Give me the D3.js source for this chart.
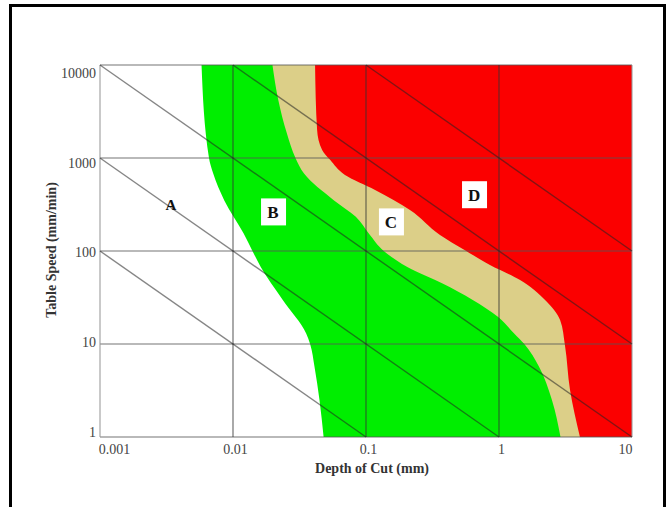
<!DOCTYPE html>
<html>
<head>
<meta charset="utf-8">
<script src="https://cdn.jsdelivr.net/npm/d3@7"></script>
<style>
  body { margin: 0; background: #fff; }
  svg { display: block; font-family: "Liberation Serif", "DejaVu Serif", serif; }
</style>
</head>
<body>
<div id="chart"></div>
<script>
// axis ticks
const depthTicks = [0.001, 0.01, 0.1, 1, 10];
const speedTicks = [1, 10, 100, 1000, 10000];

// zone boundaries: [table speed (mm/min), depth of cut (mm)]
const boundaryAB = [
  [1, 0.048], [2.5, 0.0447], [5.7, 0.041], [10, 0.038], [13, 0.0355], [30, 0.0236],
  [67, 0.0162], [100, 0.014], [155, 0.012], [350, 0.0086], [680, 0.0071], [1000, 0.0066], [10000, 0.0058]
];
const boundaryBC = [
  [1, 2.9], [2.5, 2.5], [5.7, 2.0], [10, 1.55], [13, 1.3], [19.5, 0.986], [30, 0.63],
  [45, 0.373], [67, 0.206], [100, 0.136], [154, 0.105], [233, 0.0838], [350, 0.0575],
  [680, 0.0342], [1000, 0.0295], [1840, 0.0254], [4200, 0.0219], [10000, 0.0198]
];
const boundaryCD = [
  [1, 4.06], [3.2, 3.42], [9.75, 3.13], [18.1, 2.88], [29.7, 2.22], [48.8, 1.44],
  [70.8, 0.855], [102, 0.555], [149, 0.36], [276, 0.214], [453, 0.117], [656, 0.0695],
  [955, 0.0537], [1219, 0.0468], [1995, 0.0429], [10000, 0.0414]
];

// constant-product lines (speed x depth)
const diagonalProducts = [0.1, 1, 10, 100, 1000];

// zone labels
const zoneNames = ['A', 'B', 'C', 'D'];
const zoneDepths = [0.00342, 0.0200, 0.154, 0.649];
const zoneSpeeds = [309, 260, 203, 398];

const width = 671;
const height = 507;

const svg = d3.select('#chart')
  .append('svg')
  .attr('width', width)
  .attr('height', height);

// outer frame
svg.append('rect')
  .attr('x', 10.5)
  .attr('y', 5.5)
  .attr('width', 654)
  .attr('height', 530)
  .attr('fill', 'none')
  .attr('stroke', '#000')
  .attr('stroke-width', 3);

const x = d3.scaleLog().domain([0.001, 10]).range([100, 632]);
const y = d3.scaleLog().domain([1, 10000]).range([437, 65]);

// zones, each filled from its left boundary to the right edge
const zoneArea = d3.area()
  .curve(d3.curveMonotoneY)
  .y((d) => y(d[0]))
  .x0((d) => x(d[1]))
  .x1(x(10));

const zones = [
  { data: boundaryAB, color: '#00ee00' },
  { data: boundaryBC, color: '#dccf88' },
  { data: boundaryCD, color: '#fb0000' }
];

svg.append('g')
  .selectAll('path')
  .data(zones)
  .join('path')
  .attr('d', (d) => zoneArea(d.data))
  .attr('fill', (d) => d.color);

// grid lines
const grid = svg.append('g');
grid.selectAll('line.h')
  .data(speedTicks)
  .join('line')
  .attr('class', 'h')
  .attr('x1', x(0.001))
  .attr('x2', x(10))
  .attr('y1', (d) => y(d))
  .attr('y2', (d) => y(d))
  .attr('stroke', '#555')
  .attr('stroke-opacity', 0.55)
  .attr('stroke-width', 1.5);

grid.selectAll('line.v')
  .data(depthTicks)
  .join('line')
  .attr('class', 'v')
  .attr('x1', (d) => x(d))
  .attr('x2', (d) => x(d))
  .attr('y1', y(1))
  .attr('y2', y(10000))
  .attr('stroke', (d) => (d === 0.001 || d === 10 ? '#999' : '#333'))
  .attr('stroke-opacity', 0.7)
  .attr('stroke-width', (d) => (d === 0.001 || d === 10 ? 1.5 : 1.2));

// diagonal lines, clipped to the domain
svg.append('g')
  .selectAll('line')
  .data(diagonalProducts)
  .join('line')
  .attr('x1', (k) => x(Math.max(0.001, k / 10000)))
  .attr('y1', (k) => y(k / Math.max(0.001, k / 10000)))
  .attr('x2', (k) => x(Math.min(10, k)))
  .attr('y2', (k) => y(k / Math.min(10, k)))
  .attr('stroke', '#222')
  .attr('stroke-opacity', 0.55)
  .attr('stroke-width', 1.4);

// x tick labels
const xAxis = svg.append('g')
  .attr('transform', `translate(0,${y(1) + 4})`)
  .call(d3.axisBottom(x).tickValues(depthTicks).tickFormat((d) => String(d)).tickSize(0));
xAxis.select('.domain').remove();
xAxis.selectAll('text')
  .attr('font-family', '"Liberation Serif", serif')
  .attr('font-size', 14)
  .attr('fill', '#444')
  .attr('dx', (d) => (d === 0.001 ? 14 : d === 10 ? -7 : 2));

// y tick labels (printed slightly off the grid lines in the original)
const yLabelScale = d3.scaleLog().domain([1, 10000]).range([432, 73]);
const yAxis = svg.append('g')
  .attr('transform', `translate(${x(0.001) - 1},0)`)
  .call(d3.axisLeft(yLabelScale).tickValues(speedTicks).tickFormat((d) => String(d)).tickSize(0));
yAxis.select('.domain').remove();
yAxis.selectAll('text')
  .attr('font-family', '"Liberation Serif", serif')
  .attr('font-size', 14)
  .attr('fill', '#444');

// axis titles
svg.append('text')
  .attr('x', 372)
  .attr('y', 473)
  .attr('text-anchor', 'middle')
  .attr('font-size', 14)
  .attr('font-weight', 'bold')
  .attr('fill', '#333')
  .text('Depth of Cut (mm)');

svg.append('text')
  .attr('transform', 'translate(56,250) rotate(-90)')
  .attr('text-anchor', 'middle')
  .attr('font-size', 14)
  .attr('font-weight', 'bold')
  .attr('fill', '#333')
  .text('Table Speed (mm/min)');

// zone labels
const labels = svg.append('g')
  .selectAll('g')
  .data(zoneNames)
  .join('g')
  .attr('transform', (d, i) => `translate(${x(zoneDepths[i])},${y(zoneSpeeds[i])})`);

labels.filter((d) => d !== 'A')
  .append('rect')
  .attr('x', -12)
  .attr('y', -14)
  .attr('width', 25)
  .attr('height', 27)
  .attr('fill', '#fff');

labels.append('text')
  .attr('text-anchor', 'middle')
  .attr('dominant-baseline', 'central')
  .attr('font-size', (d) => (d === 'A' ? 15 : 17))
  .attr('font-weight', 'bold')
  .attr('fill', '#111')
  .text((d) => d);
</script>
</body>
</html>
